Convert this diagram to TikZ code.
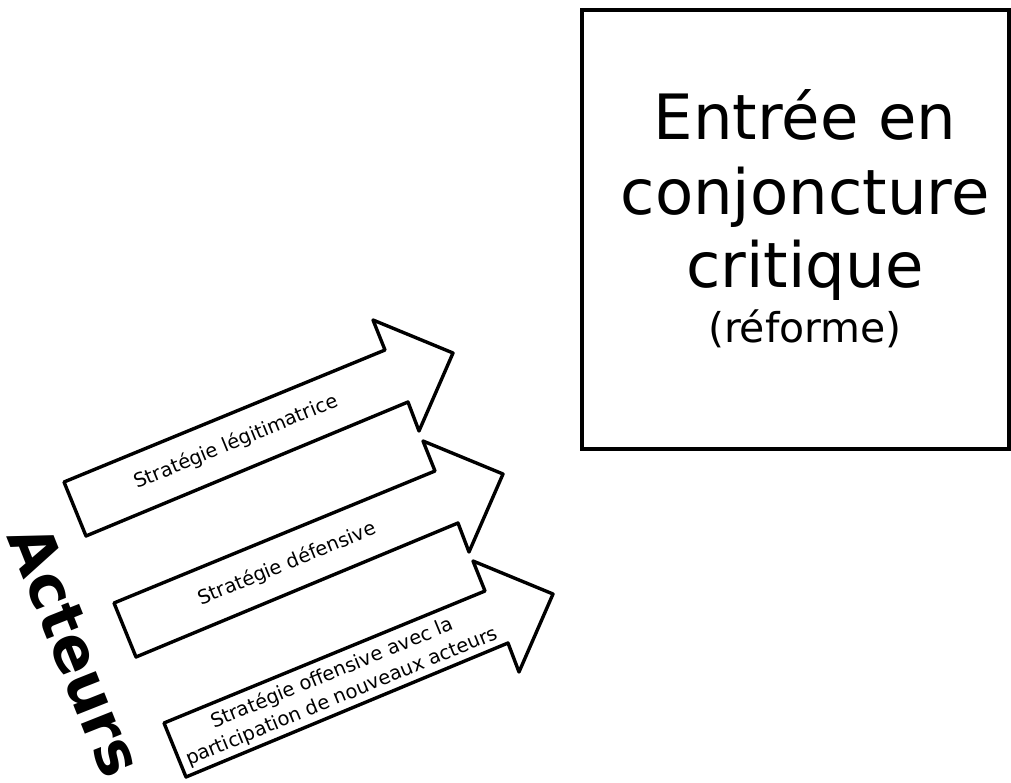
\documentclass[tikz,border=0pt]{standalone}
\usepackage{fontspec}
\setmainfont{DejaVu Sans}
\begin{document}
\begin{tikzpicture}[x=1pt,y=-1pt,
  arrowline/.style={draw=black,line width=3.4pt,line join=round,fill=white},
  boxline/.style={draw=black,line width=3.4pt},
  lbl/.style={inner sep=0pt,align=center,rotate=22.35,font=\fontsize{19.5}{25}\selectfont},
  bigtxt/.style={anchor=base,inner sep=0pt,font=\fontsize{62.5}{74}\selectfont},
  stratarrow/.pic={
    \draw[arrowline] (64,482) -- (385,350) -- (373,320) -- (453,353)
      -- (419,431) -- (408,402) -- (86,536) -- cycle;
  }]
\useasboundingbox (0,0) rectangle (1011,783);
% Box
\draw[boxline] (582,10) rectangle (1009,449);
\node[bigtxt] (t1) at (805,140) {Entrée en};
\node[bigtxt] (t2) at (805,215) {conjoncture};
\node[bigtxt] (t3) at (805,288) {critique};
\node[anchor=base,inner sep=0pt,font=\fontsize{41}{49}\selectfont] (t4) at (805,342) {(réforme)};
% Arrows
\pic at (0,0) {stratarrow};
\pic at (50,121) {stratarrow};
\pic at (100,241) {stratarrow};
\node[lbl] (l1) at (236,442) {Stratégie légitimatrice};
\node[lbl] (l2) at (287,564) {Stratégie défensive};
\node[lbl] (l3) at (337,685) {Stratégie offensive avec la\\participation de nouveaux acteurs};
% Acteurs
\node[inner sep=0pt,rotate=-68.3,font=\fontsize{61}{70}\selectfont\bfseries] (act) at (76,651) {Acteurs};
\end{tikzpicture}
\end{document}
